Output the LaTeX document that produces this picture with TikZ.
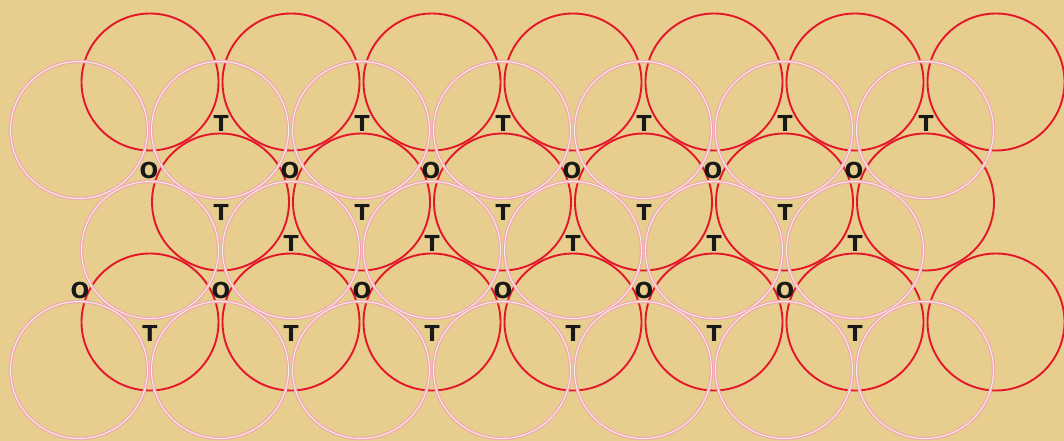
\documentclass[tikz,border=0pt]{standalone}
\usepackage{fontspec}
\setmainfont{DejaVu Sans}
\usepackage{tikz}
\usetikzlibrary{shapes.geometric, positioning}
\definecolor{parchment}{RGB}{231,206,142}
\definecolor{ballred}{RGB}{228,22,42}
\definecolor{ballpink}{RGB}{240,170,176}
\definecolor{sitegray}{RGB}{24,24,24}
\tikzstyle{redball} = [circle, minimum size=137pt, inner sep=0pt, draw=ballred, line width=1.9pt]
\tikzstyle{pinkball} = [circle, minimum size=137pt, inner sep=0pt, draw=ballpink, line width=1.3pt, double=white!80!ballpink, double distance=0.9pt]
\tikzstyle{site} = [inner sep=0pt, text=sitegray, font=\fontsize{22}{22}\selectfont\bfseries]

\begin{document}
\begin{tikzpicture}[x=1pt, y=-1pt]

\fill[parchment] (0,0) rectangle (1064,441);
\useasboundingbox (0,0) rectangle (1064,441);

% bottom layer
\foreach \k in {0,...,6} \node (ra\k) [redball] at (150+141*\k,82) {};
\foreach \k in {0,...,5} \node (rb\k) [redball] at (220.5+141*\k,202) {};
\foreach \k in {0,...,6} \node (rc\k) [redball] at (150+141*\k,322) {};

% top layer
\foreach \k in {0,...,6} \node (pa\k) [pinkball] at (79+141*\k,130) {};
\foreach \k in {0,...,5} \node (pb\k) [pinkball] at (150+141*\k,250) {};
\foreach \k in {0,...,6} \node (pc\k) [pinkball] at (79+141*\k,370) {};

% holes
\foreach \k in {0,...,5} \node (ta\k) [site] at (221+141*\k,123) {T};
\foreach \k in {0,...,5} \node (oa\k) [site] at (149+141*\k,170) {O};
\foreach \k in {0,...,4} \node (tb\k) [site] at (221+141*\k,212) {T};
\foreach \k in {0,...,4} \node (tc\k) [site] at (291+141*\k,243) {T};
\foreach \k in {0,...,5} \node (ob\k) [site] at (80+141*\k,290) {O};
\foreach \k in {0,...,5} \node (td\k) [site] at (150+141*\k,333) {T};

\end{tikzpicture}
\end{document}
